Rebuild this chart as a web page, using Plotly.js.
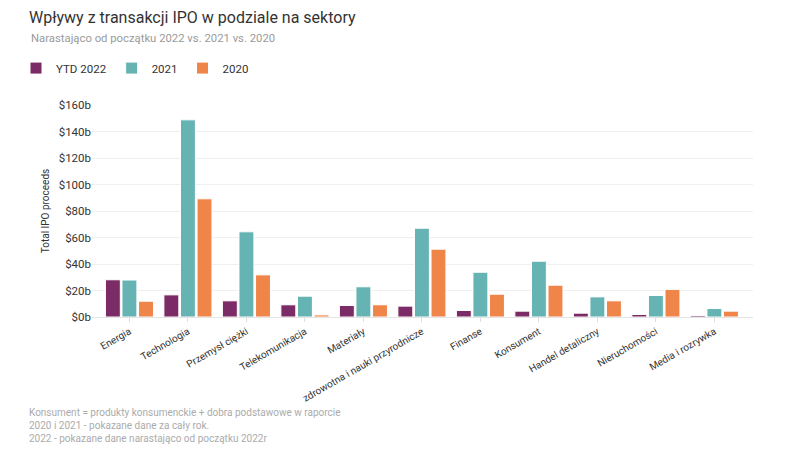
<!DOCTYPE html>
<html>
<head>
<meta charset="utf-8">
<script src="https://cdn.plot.ly/plotly-3.0.1.min.js"></script>
<style>html,body{margin:0;padding:0;background:#fff;}#chart{width:800px;height:462px;}</style>
</head>
<body>
<div id="chart"></div>
<script>
var categories = ["Energia", "Technologia", "Przemysł ciężki", "Telekomunikacja", "Materiały",
  "zdrowotna i nauki przyrodnicze", "Finanse", "Konsument", "Handel detaliczny", "Nieruchomości", "Media i rozrywka"];
var ytd2022 = [28.1, 16.7, 12.2, 9.2, 8.7, 8.2, 4.9, 4.4, 2.9, 1.9, 1.1];
var y2021 = [27.9, 148.8, 64.3, 15.7, 22.8, 67.0, 33.8, 42.1, 15.2, 16.2, 6.4];
var y2020 = [11.9, 89.2, 31.8, 1.6, 9.2, 51.2, 17.2, 24.0, 12.2, 20.8, 4.4];
var seriesNames = ["YTD 2022", "2021", "2020"];
var tickVals = [0, 20, 40, 60, 80, 100, 120, 140, 160];
var tickText = ["$0b", "$20b", "$40b", "$60b", "$80b", "$100b", "$120b", "$140b", "$160b"];
var footnotes = ["Konsument = produkty konsumenckie + dobra podstawowe w raporcie",
  "2020 i 2021 - pokazane dane za cały rok.",
  "2022 - pokazane dane narastająco od początku 2022r"];

var colors = ["#7b2b66", "#65b3b3", "#f0854a"];
var vals = [ytd2022, y2021, y2020];
var FONT = "Roboto, sans-serif";

var data = vals.map(function (v, i) {
  return {
    type: "bar", name: seriesNames[i], x: categories, y: v,
    marker: {color: colors[i], line: {color: "#ffffff", width: 1}},
    hoverinfo: "x+y"
  };
});

var annotations = [{
  text: "Narastająco od początku 2022 vs. 2021 vs. 2020",
  xref: "paper", yref: "paper", x: -63 / 661, y: 1 + (105 - 38) / 212.5,
  xanchor: "left", yanchor: "middle", showarrow: false,
  font: {family: FONT, size: 11.3, color: "#9a9a9a"}
}];
footnotes.forEach(function (t, i) {
  annotations.push({
    text: t, xref: "paper", yref: "paper",
    x: -65 / 661, y: -(413 + i * 13 - 317.5) / 212.5,
    xanchor: "left", yanchor: "middle", showarrow: false,
    font: {family: FONT, size: 10, color: "#ababab"}
  });
});

var layout = {
  width: 800, height: 462,
  margin: {l: 92, r: 47, t: 105, b: 144.5},
  paper_bgcolor: "#ffffff", plot_bgcolor: "#ffffff",
  font: {family: FONT, color: "#333333"},
  title: {
    text: "Wpływy z transakcji IPO w podziale na sektory",
    xref: "container", yref: "container", x: 29 / 800, xanchor: "left",
    y: 1 - 17 / 462, yanchor: "middle",
    font: {family: FONT, size: 16, color: "#333333"}
  },
  barmode: "group", bargap: 0.15, bargroupgap: 0.1,
  showlegend: true,
  legend: {
    orientation: "h", x: -76 / 661, xanchor: "left",
    y: 1 + (105 - 68) / 212.5, yanchor: "middle",
    font: {family: FONT, size: 11.5, color: "#333333"},
    itemwidth: 30, traceorder: "normal"
  },
  xaxis: {
    type: "category", range: [-0.64, 10.66],
    tickangle: -30, tickfont: {family: FONT, size: 10, color: "#333333"},
    ticks: "outside", ticklen: 4, tickcolor: "#dddddd",
    showgrid: false, showline: false, zeroline: false, fixedrange: true
  },
  yaxis: {
    range: [0, 160], tickvals: tickVals, ticktext: tickText,
    tickfont: {family: FONT, size: 11.5, color: "#333333"},
    showgrid: true, gridcolor: "#efefef", zeroline: true, zerolinecolor: "#e4e4e4",
    showline: false, ticks: "", fixedrange: true,
    title: {text: "Total IPO proceeds", font: {family: FONT, size: 10, color: "#333333"}, standoff: 7}
  },
  annotations: annotations
};

Plotly.newPlot("chart", data, layout, {displayModeBar: false, staticPlot: true});
</script>
</body>
</html>
